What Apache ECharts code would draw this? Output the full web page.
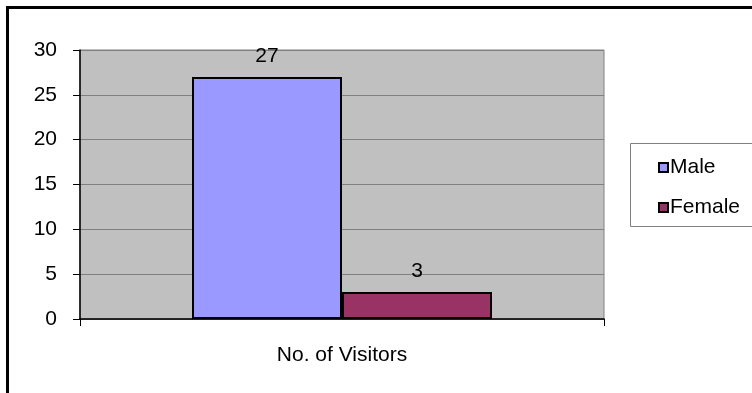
<!DOCTYPE html>
<html>
<head>
<meta charset="utf-8">
<script src="https://cdn.jsdelivr.net/npm/echarts@6/dist/echarts.min.js"></script>
<style>
  html, body { margin: 0; padding: 0; background: #fff; }
  #chart { width: 752px; height: 393px; }
</style>
</head>
<body>
<div id="chart"></div>
<script>
// Visitor counts by gender
const categories = ['No. of Visitors'];
const seriesNames = ['Male', 'Female'];
const maleValues = [27];
const femaleValues = [3];
const seriesColors = ['#9999FF', '#993366'];

const FONT = 'Liberation Sans, Arial, sans-serif';
const FONT_SIZE = 21;

const chart = echarts.init(document.getElementById('chart'), null, { renderer: 'canvas' });

const barSeries = [maleValues, femaleValues].map((vals, i) => ({
  name: seriesNames[i],
  type: 'bar',
  data: vals,
  barWidth: 150,
  barGap: '0%',
  itemStyle: { color: seriesColors[i], borderColor: '#000', borderWidth: 2 },
  label: {
    show: true,
    position: 'top',
    distance: 10,
    color: '#000',
    fontFamily: FONT,
    fontSize: FONT_SIZE
  },
  emphasis: { disabled: true }
}));

chart.setOption({
  animation: false,
  backgroundColor: '#fff',
  graphic: [
    {
      type: 'rect',
      shape: { x: 7.5, y: 7.5, width: 900, height: 600 },
      style: { fill: 'none', stroke: '#000', lineWidth: 3 },
      z: 100
    },
    {
      type: 'rect',
      shape: { x: 630.5, y: 143.5, width: 200, height: 83 },
      style: { fill: '#fff', stroke: '#808080', lineWidth: 1 },
      z: 0
    }
  ],
  grid: {
    left: 80, top: 50, right: 148, bottom: 74,
    show: true,
    backgroundColor: '#C0C0C0',
    borderColor: '#808080',
    borderWidth: 1
  },
  legend: {
    orient: 'vertical',
    left: 653,
    top: 152,
    itemWidth: 9,
    itemHeight: 9,
    itemGap: 19,
    icon: 'rect',
    data: seriesNames,
    textStyle: { fontFamily: FONT, fontSize: FONT_SIZE, color: '#000', padding: [0, 0, 0, -3] },
    itemStyle: { borderColor: '#000', borderWidth: 2 },
    z: 10
  },
  xAxis: {
    type: 'category',
    data: categories,
    boundaryGap: true,
    axisLine: { lineStyle: { color: '#000', width: 1.5 } },
    axisTick: { show: true, length: 7, lineStyle: { color: '#000' } },
    axisLabel: { color: '#000', fontFamily: FONT, fontSize: FONT_SIZE, margin: 26 }
  },
  yAxis: {
    type: 'value',
    min: 0,
    max: 30,
    interval: 5,
    axisLine: { show: true, lineStyle: { color: '#000', width: 1.5 } },
    axisTick: { show: true, length: 7, lineStyle: { color: '#000' } },
    axisLabel: { color: '#000', fontFamily: FONT, fontSize: FONT_SIZE, margin: 23 },
    splitLine: { show: true, lineStyle: { color: '#808080', width: 1 } }
  },
  series: barSeries
});
</script>
</body>
</html>
